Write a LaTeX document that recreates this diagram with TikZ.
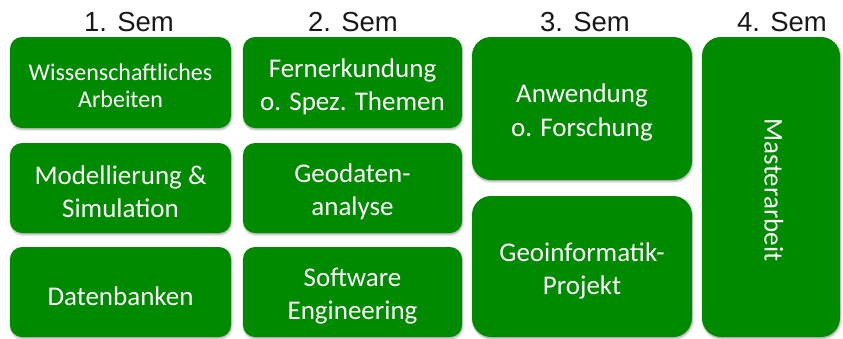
\documentclass[tikz,border=0pt]{standalone}
\usepackage{fontspec}
\setmainfont{Carlito}
\newfontfamily\headfont{Liberation Sans}
\usetikzlibrary{shadows.blur}
\definecolor{boxgreen}{RGB}{0,138,0}
\begin{document}
\begin{tikzpicture}[x=1pt,y=1pt,
  modbox/.style={draw=none, fill=boxgreen, rounded corners=12pt, inner sep=0pt,
    blur shadow={shadow xshift=0.6pt, shadow yshift=-1.6pt, shadow blur radius=2pt, shadow opacity=35}},
  bigbox/.style={modbox, rounded corners=19pt},
  boxtext/.style={text=white, align=center, inner sep=0pt, font=\fontsize{27}{33}\selectfont},
  semhead/.style={anchor=base, inner sep=0pt, font=\headfont\fontsize{27.5}{30}\selectfont, text=black!90}]
\useasboundingbox (0,0) rectangle (843,-338);
% headers
\node[semhead] (h1) at (129,-31) {1. Sem};
\node[semhead] (h2) at (353,-31) {2. Sem};
\node[semhead] (h3) at (585,-31) {3. Sem};
\node[semhead] (h4) at (782,-31) {4. Sem};
% column 1
\node[modbox, minimum width=221pt, minimum height=91pt] (wa) at (120.5,-82.5) {};
\node[modbox, minimum width=221pt, minimum height=90pt] (ms) at (120.5,-188) {};
\node[modbox, minimum width=221pt, minimum height=90pt] (db) at (120.5,-292) {};
% column 2
\node[modbox, minimum width=219pt, minimum height=91pt] (fe) at (352.5,-82.5) {};
\node[modbox, minimum width=219pt, minimum height=90pt] (ga) at (352.5,-188) {};
\node[modbox, minimum width=219pt, minimum height=90pt] (se) at (352.5,-292) {};
% column 3
\node[bigbox, minimum width=220pt, minimum height=143pt] (af) at (582,-108.5) {};
\node[bigbox, minimum width=220pt, minimum height=141pt] (gp) at (582,-266.5) {};
% column 4
\node[bigbox, minimum width=138pt, minimum height=300pt] (ma) at (771,-187) {};
% texts
\node[boxtext, font=\fontsize{24}{27}\selectfont] (wa-t) at ([yshift=-3pt]wa.center) {Wissenschaftliches\\Arbeiten};
\node[boxtext] (ms-t) at ([yshift=-4pt]ms.center) {Modellierung \&\\Simulation};
\node[boxtext] (db-t) at ([yshift=-4pt]db.center) {Datenbanken};
\node[boxtext] (fe-t) at ([yshift=-4pt]fe.center) {Fernerkundung\\o. Spez. Themen};
\node[boxtext] (ga-t) at ([yshift=-4pt]ga.center) {Geodaten-\\analyse};
\node[boxtext] (se-t) at ([yshift=-4pt]se.center) {Software\\Engineering};
\node[boxtext, font=\fontsize{27}{34}\selectfont] (af-t) at ([yshift=-4pt]af.center) {Anwendung\\o. Forschung};
\node[boxtext] (gp-t) at ([yshift=-4pt]gp.center) {Geoinformatik-\\Projekt};
\node[boxtext, rotate=-90] (ma-t) at ([xshift=3pt,yshift=-3pt]ma.center) {Masterarbeit};
\end{tikzpicture}
\end{document}
